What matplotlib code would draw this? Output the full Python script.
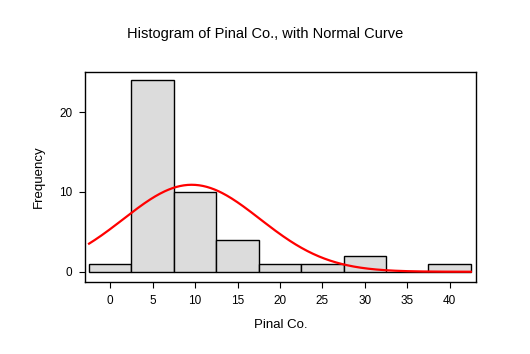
import numpy as np
import matplotlib
matplotlib.use("Agg")
import matplotlib.pyplot as plt

bin_centers = [0, 5, 10, 15, 20, 25, 30, 35, 40]
frequencies = [1, 24, 10, 4, 1, 1, 2, 0, 1]
bin_width = 5
mean_val = 9.6
sd_val = 8.05
n_total = sum(frequencies)
x_ticks = [0, 5, 10, 15, 20, 25, 30, 35, 40]
y_ticks = [0, 10, 20]

plt.rcParams['font.family'] = ['Liberation Sans', 'DejaVu Sans']

fig = plt.figure(figsize=(5.3, 3.54), dpi=100)
ax = fig.add_axes([0.160, 0.203, 0.738, 0.595])

ax.bar(bin_centers, frequencies, width=bin_width, color='#DCDCDC',
       edgecolor='black', linewidth=1.0, zorder=2)

xs = np.linspace(bin_centers[0] - bin_width / 2, bin_centers[-1] + bin_width / 2, 400)
ys = n_total * bin_width / (sd_val * np.sqrt(2 * np.pi)) * np.exp(-0.5 * ((xs - mean_val) / sd_val) ** 2)
ax.plot(xs, ys, color='red', linewidth=1.6, zorder=3)

ax.set_xlim(-3.0, 43.1)
ax.set_ylim(-1.3, 25.1)
ax.set_xticks(x_ticks)
ax.set_yticks(y_ticks)
ax.tick_params(direction='out', length=4, width=0.8, labelsize=8.5, pad=5)
for s in ax.spines.values():
    s.set_linewidth(1.0)

ax.set_xlabel('Pinal Co.', fontsize=9.5, labelpad=9)
ax.set_ylabel('Frequency', fontsize=9.5, labelpad=10)
fig.text(0.5, 0.905, 'Histogram of Pinal Co., with Normal Curve', ha='center', va='center', fontsize=10.5)

fig.savefig('out.png', dpi=100)
